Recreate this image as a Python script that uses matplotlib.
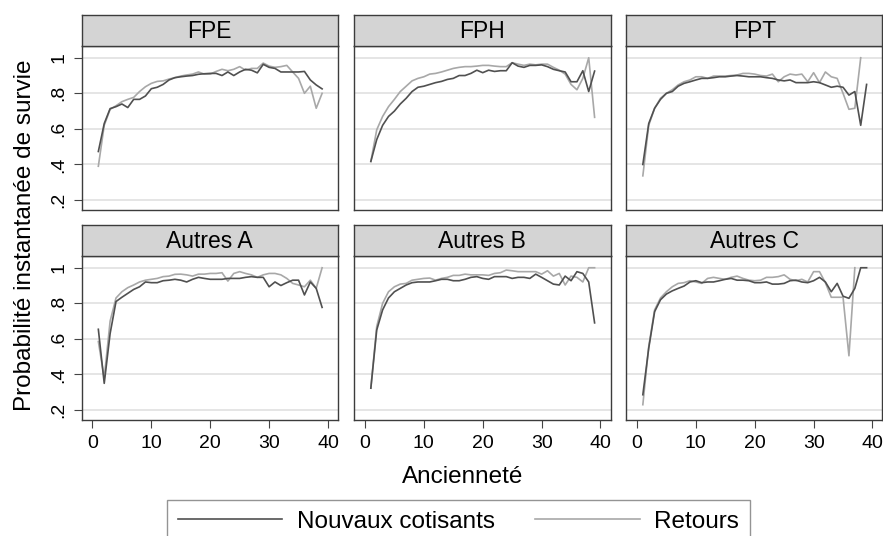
import matplotlib
matplotlib.use("Agg")
import matplotlib.pyplot as plt
from matplotlib.lines import Line2D

plt.rcParams["font.family"] = ["Liberation Sans", "DejaVu Sans"]

# Ancienneté (années) et probabilités
anciennete = list(range(1, 40))
panel_names = ["FPE", "FPH", "FPT", "Autres A", "Autres B", "Autres C"]
y_ticks = [0.2, 0.4, 0.6, 0.8, 1.0]
y_tick_labels = [".2", ".4", ".6", ".8", "1"]
x_ticks = [0, 10, 20, 30, 40]

fpe_nouveaux = [.473, .63, .714, .725, .74, .72, .766, .766, .785, .826,
                .834, .85, .875, .888, .893, .897, .90, .907, .91, .912,
                .912, .90, .92, .90, .92, .935, .93, .915, .963, .946,
                .94, .92, .92, .92, .92, .923, .875, .847, .825]
fpe_retours = [.39, .62, .71, .73, .753, .766, .777, .81, .837, .856,
               .867, .87, .88, .888, .897, .903, .908, .92, .908, .908,
               .923, .935, .927, .935, .95, .93, .94, .94, .97, .953,
               .946, .95, .957, .92, .884, .80, .84, .716, .80]

fph_nouveaux = [.417, .54, .62, .67, .70, .74, .772, .81, .834, .84,
                .85, .86, .867, .878, .884, .90, .90, .912, .93, .916,
                .93, .923, .927, .927, .972, .953, .946, .957, .957, .96,
                .95, .935, .927, .92, .865, .865, .927, .81, .925]
fph_retours = [.417, .595, .67, .725, .766, .81, .84, .87, .884, .893,
               .908, .912, .92, .93, .94, .946, .95, .95, .953, .957,
               .957, .953, .95, .95, .972, .964, .957, .964, .96, .964,
               .964, .946, .93, .908, .85, .82, .884, 1.0, .665]

fpt_nouveaux = [.40, .63, .716, .766, .80, .81, .84, .856, .865, .875,
                .884, .884, .888, .893, .893, .897, .90, .897, .893, .893,
                .893, .888, .884, .875, .87, .875, .86, .86, .86, .865,
                .86, .847, .834, .84, .834, .79, .81, .62, .85]
fpt_retours = [.336, .62, .716, .772, .80, .82, .847, .865, .875, .893,
               .893, .884, .897, .897, .897, .90, .903, .912, .912, .908,
               .90, .897, .908, .865, .893, .908, .903, .908, .865, .916,
               .86, .92, .893, .884, .80, .71, .716, 1.0]

autres_a_nouveaux = [.654, .35, .63, .81, .834, .856, .878, .893, .92, .916,
                     .916, .927, .93, .935, .93, .92, .935, .946, .94, .935,
                     .935, .935, .94, .94, .94, .946, .95, .946, .946, .893,
                     .92, .90, .916, .93, .93, .847, .92, .884, .777]
autres_a_retours = [.585, .38, .70, .83, .865, .888, .903, .92, .93, .935,
                    .94, .95, .953, .963, .964, .96, .953, .964, .964, .968,
                    .968, .972, .925, .968, .978, .968, .96, .946, .96, .968,
                    .968, .96, .94, .912, .903, .893, .93, .884, 1.0]

autres_b_nouveaux = [.323, .65, .763, .83, .865, .884, .903, .916, .92, .92,
                     .92, .927, .935, .935, .927, .927, .935, .946, .95, .94,
                     .935, .95, .95, .95, .94, .946, .946, .94, .964, .946,
                     .927, .908, .903, .953, .927, .978, .968, .92, .69]
autres_b_retours = [.323, .67, .80, .865, .893, .908, .912, .93, .935, .94,
                    .942, .93, .94, .946, .957, .957, .964, .96, .96, .96,
                    .957, .968, .972, .987, .983, .978, .978, .978, .978, .964,
                    .983, .953, .968, .903, .953, .946, .92, 1.0, 1.0]

autres_c_nouveaux = [.286, .548, .753, .82, .852, .87, .884, .897, .92, .927,
                     .916, .92, .92, .927, .935, .94, .93, .93, .927, .916,
                     .916, .92, .908, .908, .912, .927, .93, .92, .916, .927,
                     .946, .92, .865, .912, .84, .828, .884, 1.0, 1.0]
autres_c_retours = [.23, .557, .763, .83, .865, .893, .912, .916, .927, .92,
                    .912, .94, .946, .94, .935, .946, .953, .94, .93, .927,
                    .93, .946, .946, .95, .96, .935, .927, .935, .92, .978,
                    .978, .916, .834, .834, .834, .505, 1.0]

nouveaux = [fpe_nouveaux, fph_nouveaux, fpt_nouveaux,
            autres_a_nouveaux, autres_b_nouveaux, autres_c_nouveaux]
retours = [fpe_retours, fph_retours, fpt_retours,
           autres_a_retours, autres_b_retours, autres_c_retours]

DARK = "#505050"
LIGHT = "#a8a8a8"
FRAME = "#3c3c3c"

W, H = 883, 536
fig = plt.figure(figsize=(W / 100, H / 100), dpi=100)

col_left = [81.5, 354, 626]
panel_w = 256.5
row_top = [46, 256]
panel_h = 164
strip_h = 31

for i, name in enumerate(panel_names):
    row, col = divmod(i, 3)
    x0 = col_left[col] / W
    y0 = 1 - (row_top[row] + panel_h) / H
    ax = fig.add_axes([x0, y0, panel_w / W, panel_h / H])
    n = nouveaux[i]
    r = retours[i]
    ax.plot(anciennete[:len(n)], n, color=DARK, lw=1.2, zorder=3)
    ax.plot(anciennete[:len(r)], r, color=LIGHT, lw=1.2, zorder=2)
    ax.set_xlim(-1.86, 41.7)
    ax.set_ylim(0.144, 1.066)
    ax.set_yticks(y_ticks)
    ax.set_xticks(x_ticks)
    ax.grid(axis="y", color="#e3e3e3", lw=1.3)
    ax.set_axisbelow(True)
    for sp in ax.spines.values():
        sp.set_color(FRAME)
        sp.set_linewidth(1.0)
    ax.tick_params(colors="#444444", length=6, width=0.8,
                   labelcolor="black", labelsize=14)
    if col == 0:
        ax.set_yticklabels(y_tick_labels, rotation=90, va="center")
        ax.tick_params(axis="y", pad=4)
    else:
        ax.tick_params(axis="y", left=False, labelleft=False)
    if row == 1:
        ax.tick_params(axis="x", pad=5)
    else:
        ax.tick_params(axis="x", bottom=False, labelbottom=False)

    strip = fig.add_axes([x0, y0 + panel_h / H, panel_w / W, strip_h / H])
    strip.set_facecolor("#d4d4d4")
    strip.set_xticks([])
    strip.set_yticks([])
    for sp in strip.spines.values():
        sp.set_color(FRAME)
        sp.set_linewidth(1.0)
    strip.text(0.5, 0.47, name, ha="center", va="center", fontsize=16.5,
               transform=strip.transAxes)

fig.text(25 / W, 1 - 235 / H, "Probabilité instantanée de survie",
         rotation=90, ha="center", va="center", fontsize=17.5)
fig.text(463 / W, 1 - 477 / H, "Ancienneté", ha="center", va="center",
         fontsize=17.5)

handles = [Line2D([], [], color=DARK, lw=1.2),
           Line2D([], [], color=LIGHT, lw=1.2)]
leg = fig.legend(handles, ["Nouvaux cotisants", "Retours"],
                 loc="upper left", bbox_to_anchor=(167 / W, 1 - 500 / H),
                 ncol=2, frameon=True, fancybox=False, fontsize=17.5,
                 handlelength=4.3, handletextpad=0.6, columnspacing=1.65,
                 borderpad=0.45, borderaxespad=0)
leg.get_frame().set_edgecolor("#7a7a7a")
leg.get_frame().set_linewidth(1.0)

fig.savefig("out.png", dpi=100)
